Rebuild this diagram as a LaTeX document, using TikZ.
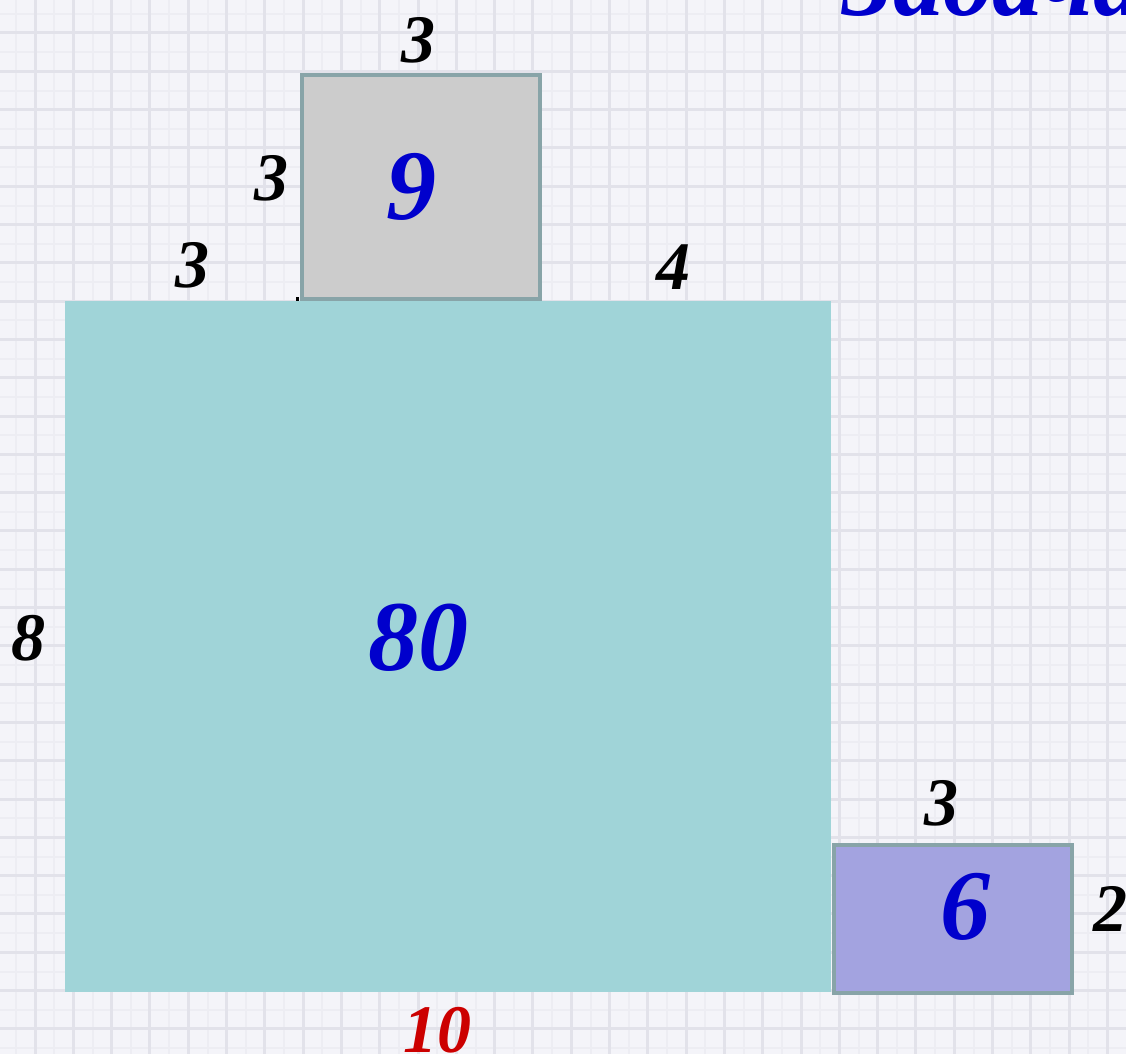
\documentclass[tikz,border=0pt]{standalone}
\usepackage{fontspec}
\setmainfont{Liberation Serif}
\definecolor{bgcol}{HTML}{F4F4F9}
\definecolor{gridcol}{HTML}{E2E2EA}
\definecolor{gridfine}{HTML}{EDEDF3}
\definecolor{bigcol}{HTML}{A0D4D8}
\definecolor{greycol}{HTML}{CCCCCC}
\definecolor{purcol}{HTML}{A3A3E0}
\definecolor{edgecol}{HTML}{88A4A8}
\definecolor{numblue}{HTML}{0000CC}
\definecolor{numred}{HTML}{CC0000}
\begin{document}
\begin{tikzpicture}[x=1pt,y=-1pt,
  lab/.style={font=\fontsize{68}{68}\selectfont\bfseries\itshape, text=black, inner sep=0pt},
  area/.style={font=\fontsize{100}{100}\selectfont\bfseries\itshape, text=numblue, inner sep=0pt},
  boxedge/.style={draw=edgecol, line width=4pt}]
\useasboundingbox (0,0) rectangle (1126,1054);
\clip (0,0) rectangle (1126,1054);
\fill[bgcol] (0,0) rectangle (1126,1054);
\foreach \i in {0,...,30} {
  \draw[gridfine, line width=2pt] (16+38.3*\i,0) -- ++(0,1054);
  \draw[gridfine, line width=2pt] (0,14+38.3*\i) -- ++(1126,0);
}
\foreach \i in {0,...,30} {
  \draw[gridcol, line width=3pt] (35+38.3*\i,0) -- ++(0,1054);
  \draw[gridcol, line width=3pt] (0,33+38.3*\i) -- ++(1126,0);
}
% title (cut off)
\node[anchor=base west, inner sep=0pt, text=numblue,
  font=\fontsize{100}{100}\selectfont\bfseries\itshape] (title) at (842,16) {Задача};
% shapes
\fill[bigcol] (65,301) rectangle (831,992);
\node[boxedge, fill=greycol, minimum width=238pt, minimum height=223pt, inner sep=0pt] (sq) at (421,187) {};
\node[boxedge, fill=purcol, minimum width=238pt, minimum height=148pt, inner sep=0pt] (pr) at (953,919) {};
\fill[black] (296,297) rectangle (299,301);
% labels
\node[lab] (t1) at (418,40) {3};
\node[lab] (t2) at (271,178) {3};
\node[area] (a9) at (411,187) {9};
\node[lab] (t3) at (192,265) {3};
\node[lab] (t4) at (673,267) {4};
\node[lab] (t8) at (28,638) {8};
\node[area] (a80) at (418,638) {80};
\node[lab] (t5) at (941,803) {3};
\node[area] (a6) at (965,907) {6};
\node[lab] (t6) at (1110,909) {2};
\node[lab, text=numred] (t10) at (437,1030) {10};
\end{tikzpicture}
\end{document}
